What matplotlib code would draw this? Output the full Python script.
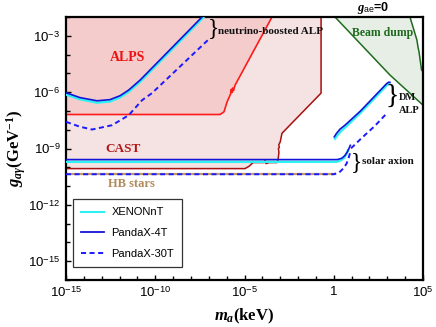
import numpy as np
import matplotlib
matplotlib.use('Agg')
import matplotlib.pyplot as plt
import matplotlib.ticker as mtick

plt.rcParams['font.family'] = 'Liberation Sans'
plt.rcParams['mathtext.fontset'] = 'custom'
plt.rcParams['mathtext.rm'] = 'Liberation Sans'
plt.rcParams['mathtext.it'] = 'Liberation Serif:italic:bold'
plt.rcParams['mathtext.bf'] = 'Liberation Serif:bold'

# all values are log10(m_a / keV) and log10(g / GeV^-1)
alps_m = [-15, -6.37, -6.15, -5.98, -5.85, -5.78, -5.74, -5.70, -5.66, -5.62, -5.53, -3.46]
alps_g = [-7.19, -7.19, -7.05, -6.53, -6.25, -6.10, -5.85, -6.02, -5.78, -5.92, -5.63, -2.0]

cast_m = [-15, -4.97, -4.75, -4.52, -3.9, -3.85, -3.8, -3.6, -3.18, -3.12, -3.07, -3.1, -3.05, -3.08, -3.0, -2.90, -0.71, -0.71]
cast_g = [-10.07, -10.07, -9.95, -9.75, -9.75, -9.62, -9.8, -9.75, -9.75, -9.6, -9.2, -9.0, -8.95, -8.8, -8.65, -8.19, -6.05, -2.0]

hb_m = [-15, 0.05]
hb_g = [-10.37, -10.37]

# neutrino-boosted ALP
nb_4t_m = [-15, -14.22, -13.26, -12.54, -11.97, -11.49, -10.85, -9.0, -7.38, -7.0]
nb_4t_g = [-6.03, -6.29, -6.46, -6.40, -6.19, -5.89, -5.36, -3.57, -2.0, -1.63]
nb_xe_m = [-15, -14.22, -13.26, -12.54, -11.97, -11.49, -10.85, -9.0, -7.33, -7.0]
nb_xe_g = [-6.13, -6.38, -6.56, -6.50, -6.28, -5.98, -5.45, -3.66, -2.04, -1.72]
nb_30t_m = [-15, -14.22, -13.54, -12.42, -11.49, -10.74, -10.18, -6.93]
nb_30t_g = [-7.58, -7.84, -7.99, -7.76, -7.23, -6.43, -6.05, -3.12]

# solar axion
sol_4t_m = [-15, 0.2, 0.45, 0.62, 0.75, 0.85, 0.93]
sol_4t_g = [-9.59, -9.59, -9.52, -9.38, -9.2, -9.0, -8.83]
sol_xe_m = [-15, 0.15, 0.4, 0.58, 0.7, 0.8]
sol_xe_g = [-9.71, -9.71, -9.63, -9.5, -9.3, -9.1]
sol_30t_m = [-15, 0.0, 0.3, 0.55, 0.72, 0.85, 0.95]
sol_30t_g = [-10.37, -10.37, -10.28, -10.05, -9.8, -9.45, -9.1]

# DM ALP
dm_4t_m = [0.03, 0.15, 0.35, 0.63, 1.5, 2.97, 3.08, 3.15]
dm_4t_g = [-8.38, -8.2, -7.97, -7.76, -7.0, -5.54, -5.47, -5.48]
dm_xe_m = [0.07, 0.2, 0.4, 0.66, 1.5, 2.98, 3.1]
dm_xe_g = [-8.48, -8.3, -8.08, -7.86, -7.1, -5.63, -5.56]
dm_30t_m = [0.97, 1.5, 2.3, 2.98]
dm_30t_g = [-8.99, -8.5, -7.8, -7.12]

# beam dump
bd_diag_m = [0.07, 3.15, 4.94, 5.0]
bd_diag_g = [-2.0, -5.09, -6.64, -6.69]
bd_right_m = [4.27, 4.66, 4.72, 4.78, 4.92, 5.0]
bd_right_g = [-2.0, -3.23, -3.6, -3.87, -4.83, -4.9]

def p(a):
    return 10.0**np.array(a, dtype=float)

xmin, xmax = 1e-15, 1e5
ymin, ymax = 1e-16, 1e-2

c_alps_fill = '#f4cccc'
c_cast_fill = '#f5e2e2'
c_red = '#ff1a1a'
c_dred = '#a80f0f'
c_hb = '#c49a66'
c_green = '#1e6b1e'
c_bd_fill = '#e6eee6'
c_blue = '#1414d8'
c_dash = '#1a1aff'
c_cyan = '#2ef2f2'

fig = plt.figure(figsize=(4.36, 3.27), dpi=100)
fig.patch.set_facecolor('white')
ax = fig.add_axes([66/436, 47/327, 357/436, 263/327])
ax.set_xscale('log')
ax.set_yscale('log')
ax.set_xlim(xmin, xmax)
ax.set_ylim(ymin, ymax)

# CAST region
ax.fill(np.r_[p(cast_m), xmin], np.r_[p(cast_g), ymax], color=c_cast_fill, lw=0, zorder=1)
ax.plot(p(cast_m), p(cast_g), color=c_dred, lw=1.1, zorder=2)
# ALPS region
ax.fill(np.r_[p(alps_m), xmin], np.r_[p(alps_g), ymax], color=c_alps_fill, lw=0, zorder=1.5)
ax.plot(p(alps_m), p(alps_g), color=c_red, lw=1.2, zorder=2)
# beam dump
ax.fill(np.r_[p(bd_diag_m), p(bd_right_m)[::-1]], np.r_[p(bd_diag_g), p(bd_right_g)[::-1]],
        color=c_bd_fill, lw=0, zorder=1)
ax.plot(p(bd_diag_m), p(bd_diag_g), color=c_green, lw=1.1, zorder=2)
ax.plot(p(bd_right_m), p(bd_right_g), color=c_green, lw=1.1, zorder=2)
# HB stars
ax.plot(p(hb_m), p(hb_g), color=c_hb, lw=1.6, zorder=2)

dash = (2.6, 1.8)
for (m, g) in [(nb_xe_m, nb_xe_g), (sol_xe_m, sol_xe_g), (dm_xe_m, dm_xe_g)]:
    ax.plot(p(m), p(g), color=c_cyan, lw=1.7, zorder=3)
for (m, g) in [(nb_4t_m, nb_4t_g), (sol_4t_m, sol_4t_g), (dm_4t_m, dm_4t_g)]:
    ax.plot(p(m), p(g), color=c_blue, lw=1.2, zorder=4)
for (m, g) in [(nb_30t_m, nb_30t_g), (sol_30t_m, sol_30t_g), (dm_30t_m, dm_30t_g)]:
    ax.plot(p(m), p(g), color=c_dash, lw=1.4, dashes=dash, zorder=4)

# legend
h1, = ax.plot([], [], color=c_cyan, lw=1.5)
h2, = ax.plot([], [], color=c_blue, lw=1.3)
h3, = ax.plot([], [], color=c_dash, lw=1.4, dashes=dash)
leg = ax.legend([h1, h2, h3], ['XENONnT', 'PandaX-4T', 'PandaX-30T'], loc='lower left',
                bbox_to_anchor=(0.02, 0.05), borderaxespad=0, fontsize=8, fancybox=False,
                framealpha=1, edgecolor='#333333', handlelength=2.0, labelspacing=0.95,
                borderpad=0.75, handletextpad=0.7)
leg.get_frame().set_linewidth(0.9)

# region labels
serif = 'Liberation Serif'
ax.text(10**-11.58, 10**-4.13, 'ALPS', color='#ee1111', fontsize=10, fontweight='bold',
        family=serif, ha='center', va='center')
ax.text(10**-11.81, 10**-9.04, 'CAST', color='#b01818', fontsize=9.5, fontweight='bold',
        family=serif, ha='center', va='center')
ax.text(10**-11.36, 10**-10.91, 'HB stars', color='#b08a5a', fontsize=9, fontweight='bold',
        family=serif, ha='center', va='center')
ax.text(10**-6.48, 10**-2.75, 'neutrino-boosted ALP', color='#111111', fontsize=8,
        fontweight='bold', family=serif, ha='left', va='center')
ax.text(10**1.02, 10**-2.85, 'Beam dump', color=c_green, fontsize=8.5, fontweight='bold',
        family=serif, ha='left', va='center')
ax.text(10**3.66, 10**-6.27, 'DM', color='#111111', fontsize=7.5, fontweight='bold',
        family=serif, ha='left', va='center')
ax.text(10**3.66, 10**-6.96, 'ALP', color='#111111', fontsize=7.5, fontweight='bold',
        family=serif, ha='left', va='center')
ax.text(10**1.58, 10**-9.68, 'solar axion', color='#111111', fontsize=8, fontweight='bold',
        family=serif, ha='left', va='center')
# braces
ax.text(10**-6.71, 10**-2.64, '}', fontsize=17, family=serif, ha='center', va='center')
ax.text(10**3.26, 10**-6.21, '}', fontsize=20, family=serif, ha='center', va='center')
ax.text(10**1.30, 10**-9.73, '}', fontsize=17, family=serif, ha='center', va='center')

ax.text(10**2.2, 10**-1.52, r'$g_{\mathrm{ae}}$=0', fontsize=9, fontweight='bold',
        ha='center', va='center', clip_on=False)

# axes
ax.set_xlabel(r'$m_a\mathbf{(keV)}$', fontsize=12, labelpad=5)
ax.set_ylabel(r'$g_{a\gamma}\mathbf{(GeV^{-1})}$', fontsize=12, labelpad=0)

ax.xaxis.set_major_locator(mtick.FixedLocator([1e-15, 1e-10, 1e-5, 1, 1e5]))
ax.xaxis.set_minor_locator(mtick.LogLocator(base=10, subs=(1.0,), numticks=40))
ax.yaxis.set_major_locator(mtick.FixedLocator([1e-15, 1e-12, 1e-9, 1e-6, 1e-3]))
ax.yaxis.set_minor_locator(mtick.LogLocator(base=10, subs=(1.0,), numticks=40))

def fmt(v, pos):
    e = int(round(np.log10(v)))
    if e == 0:
        return '1'
    return r'$10^{%d}$' % e

ax.xaxis.set_major_formatter(mtick.FuncFormatter(fmt))
ax.yaxis.set_major_formatter(mtick.FuncFormatter(fmt))
ax.xaxis.set_minor_formatter(mtick.NullFormatter())
ax.yaxis.set_minor_formatter(mtick.NullFormatter())
ax.tick_params(axis='both', which='major', direction='in', length=3.5, width=1.0,
               labelsize=9.5, pad=4, top=False, right=False)
ax.tick_params(axis='both', which='minor', direction='in', length=3.0, width=1.0,
               top=False, right=False)
for s in ax.spines.values():
    s.set_linewidth(1.6)

plt.savefig('out.png', dpi=100)
